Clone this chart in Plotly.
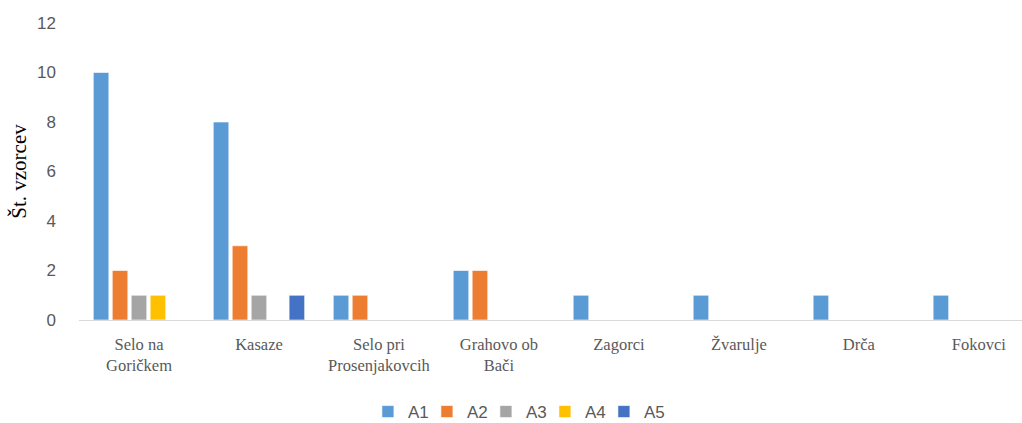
import plotly.graph_objects as go

categories = ["Selo na<br>Goričkem", "Kasaze", "Selo pri<br>Prosenjakovcih", "Grahovo ob<br>Bači",
              "Zagorci", "Žvarulje", "Drča", "Fokovci"]
a1 = [10, 8, 1, 2, 1, 1, 1, 1]
a2 = [2, 3, 1, 2, 0, 0, 0, 0]
a3 = [1, 1, 0, 0, 0, 0, 0, 0]
a4 = [1, 0, 0, 0, 0, 0, 0, 0]
a5 = [0, 1, 0, 0, 0, 0, 0, 0]
series_names = ["A1", "A2", "A3", "A4", "A5"]
y_ticks = [0, 2, 4, 6, 8, 10, 12]

colors = ["#5B9BD5", "#ED7D31", "#A5A5A5", "#FFC000", "#4472C4"]

fig = go.Figure()
for name, vals, col in zip(series_names, [a1, a2, a3, a4, a5], colors):
    fig.add_trace(go.Bar(
        x=list(range(len(categories))), y=vals, name=name,
        marker=dict(color=col, line=dict(color="rgba(255,255,255,0.6)", width=1)),
    ))

# blank trailing legend slot (on its own hidden axes) so the last label is not clipped
fig.add_trace(go.Bar(x=[None], y=[None], name=" ", showlegend=True, hoverinfo="skip",
                     xaxis="x2", yaxis="y2",
                     marker=dict(color="rgba(0,0,0,0)", line=dict(width=0))))

fig.update_layout(
    width=1022, height=423,
    margin=dict(l=79, r=0, t=23, b=103, autoexpand=False),
    paper_bgcolor="white", plot_bgcolor="white",
    barmode="group", bargap=0.21, bargroupgap=0.18,
    showlegend=True,
    legend=dict(orientation="h", xref="container", x=0.36, xanchor="left",
                yref="container", y=0.026, yanchor="middle",
                font=dict(family="Liberation Sans", size=17, color="#595959"),
                itemwidth=30, entrywidth=14, tracegroupgap=0,
                bgcolor="rgba(0,0,0,0)"),
    xaxis=dict(
        tickmode="array", tickvals=list(range(len(categories))), ticktext=categories,
        range=[-0.5, 7.36], showline=True, linecolor="#D9D9D9", linewidth=1,
        ticks="", showgrid=False, zeroline=False, automargin=False,
        ticklabelstandoff=9,
        tickfont=dict(family="Liberation Serif", size=16.5, color="#595959"),
    ),
    yaxis=dict(
        range=[0, 12], tickvals=y_ticks, showgrid=False, zeroline=False, showline=False,
        automargin=False,
        tickfont=dict(family="Liberation Sans", size=17, color="#595959"),
        ticklabelstandoff=22,
        title=dict(text="Št. vzorcev", font=dict(family="Liberation Serif", size=21, color="black"),
                   standoff=4),
    ),
    xaxis2=dict(overlaying="x", visible=False, showgrid=False, zeroline=False),
    yaxis2=dict(overlaying="y", visible=False, showgrid=False, zeroline=False),
)

fig.write_html("out.html")
